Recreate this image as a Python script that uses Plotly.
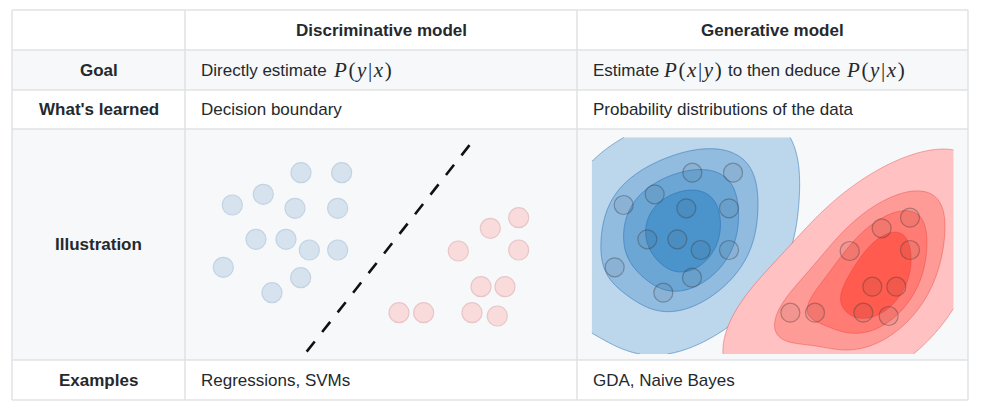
import numpy as np
import plotly.graph_objects as go

W, H = 984, 411

# ---------------- data ----------------
col_headers = ["Discriminative model", "Generative model"]
row_labels = ["Goal", "What's learned", "Illustration", "Examples"]
learned = ["Decision boundary", "Probability distributions of the data"]
examples = ["Regressions, SVMs", "GDA, Naive Bayes"]

# two classes of points (feature x1, x2)
blue_x1 = [3.63, 4.85, 2.50, 1.57, 3.45, 4.73, 2.28, 3.18, 3.88, 4.73, 1.30, 3.62, 2.76]
blue_x2 = [5.77, 5.77, 5.12, 4.80, 4.70, 4.70, 3.77, 3.77, 3.45, 3.45, 2.93, 2.62, 2.17]
red_x1 = [10.16, 9.31, 8.35, 10.16, 9.03, 9.75, 6.57, 7.31, 8.76, 9.52]
red_x2 = [4.42, 4.10, 3.42, 3.45, 2.35, 2.35, 1.57, 1.57, 1.57, 1.47]

# decision boundary end points
boundary_x1 = [3.80, 8.87]
boundary_x2 = [0.40, 6.83]

# density levels (iso-proportions of probability mass)
level_props = [0.035, 0.2875, 0.525, 0.7625]
bw_adjust = 1.35

# ---------------- styles ----------------
TXT = "#24292e"
BORDER = "#dfe2e5"
STRIPE = "#f6f8fa"
SANS = "Liberation Sans, Arial, sans-serif"
SERIF = "Liberation Serif, Times New Roman, serif"
FS = 17

blue_fills = ["#bcd6ec", "#91bbdf", "#6ca6d5", "#4b93cb"]
red_fills = ["#ffc1c1", "#ff9b96", "#ff7b73", "#ff5b4e"]

# table geometry in pixels
xs = [12, 185, 577, 968]
ys = [10, 50, 90, 129, 360, 400]


def px(x):
    return x / W


def py(y):
    return 1 - y / H


fig = go.Figure()

# ---------------- KDE (Gaussian, Scott bandwidth) ----------------
def kde(ptx, pty, gx, gy):
    pts = np.vstack([ptx, pty])
    n = pts.shape[1]
    factor = n ** (-1.0 / 6.0) * bw_adjust
    cov = np.cov(pts) * factor ** 2
    inv = np.linalg.inv(cov)
    X, Y = np.meshgrid(gx, gy)
    dx = X[..., None] - pts[0]
    dy = Y[..., None] - pts[1]
    q = inv[0, 0] * dx * dx + 2 * inv[0, 1] * dx * dy + inv[1, 1] * dy * dy
    return np.exp(-0.5 * q).sum(-1) / (n * 2 * np.pi * np.sqrt(np.linalg.det(cov)))


def iso_levels(ptx, pty, props):
    gx = np.linspace(min(ptx) - 7, max(ptx) + 7, 320)
    gy = np.linspace(min(pty) - 7, max(pty) + 7, 320)
    z = kde(ptx, pty, gx, gy)
    vals = np.sort(z.ravel())
    cum = np.cumsum(vals)
    cum /= cum[-1]
    return [vals[min(np.searchsorted(cum, p), len(vals) - 1)] for p in props]


kde_xlim = [0.61, 11.47]
kde_ylim = [0.33, 6.83]
gx = np.linspace(kde_xlim[0], kde_xlim[1], 260)
gy = np.linspace(kde_ylim[0], kde_ylim[1], 160)

for ptx, pty, fills, lc in [
    (blue_x1, blue_x2, blue_fills, "rgba(40,110,180,0.5)"),
    (red_x1, red_x2, red_fills, "rgba(230,60,60,0.4)"),
]:
    z = kde(ptx, pty, gx, gy)
    levels = iso_levels(ptx, pty, level_props)
    for lev, fc in zip(levels, fills):
        # constraint contours shade the *invalid* region -> '<' shades z >= lev
        fig.add_trace(go.Contour(
            x=gx, y=gy, z=z, xaxis="x2", yaxis="y2",
            contours=dict(type="constraint", operation="<", value=float(lev)),
            fillcolor=fc, line=dict(color=lc, width=1),
            showscale=False, hoverinfo="skip", showlegend=False,
        ))

# points on generative panel
for ptx, pty in [(blue_x1, blue_x2), (red_x1, red_x2)]:
    fig.add_trace(go.Scatter(
        x=ptx, y=pty, mode="markers", xaxis="x2", yaxis="y2",
        marker=dict(size=19, color="rgba(70,70,70,0.07)",
                    line=dict(color="rgba(60,60,60,0.38)", width=1.2)),
        hoverinfo="skip", showlegend=False,
    ))

# discriminative panel
fig.add_trace(go.Scatter(
    x=blue_x1, y=blue_x2, mode="markers", xaxis="x", yaxis="y",
    marker=dict(size=20, color="#d6e3ef", line=dict(color="#c4d3e2", width=1.2)),
    hoverinfo="skip", showlegend=False,
))
fig.add_trace(go.Scatter(
    x=red_x1, y=red_x2, mode="markers", xaxis="x", yaxis="y",
    marker=dict(size=20, color="#f9dbdc", line=dict(color="#e8c6c8", width=1.2)),
    hoverinfo="skip", showlegend=False,
))
fig.add_trace(go.Scatter(
    x=boundary_x1, y=boundary_x2, mode="lines", xaxis="x", yaxis="y",
    line=dict(color="#111111", width=2.6, dash="13px,12px"),
    hoverinfo="skip", showlegend=False,
))

# ---------------- table shapes ----------------
shapes = []
for (y0, y1), fill in zip(zip(ys[:-1], ys[1:]), ["white", STRIPE, "white", STRIPE, "white"]):
    shapes.append(dict(type="rect", xref="paper", yref="paper", layer="below",
                       x0=px(xs[0]), x1=px(xs[-1]), y0=py(y0), y1=py(y1),
                       fillcolor=fill, line=dict(width=0)))
for y in ys:
    shapes.append(dict(type="line", xref="paper", yref="paper", layer="below",
                       x0=px(xs[0]), x1=px(xs[-1]), y0=py(y), y1=py(y),
                       line=dict(color=BORDER, width=1.5)))
for x in xs:
    shapes.append(dict(type="line", xref="paper", yref="paper", layer="below",
                       x0=px(x), x1=px(x), y0=py(ys[0]), y1=py(ys[-1]),
                       line=dict(color=BORDER, width=1.5)))

# ---------------- text ----------------
ann = []


def text(x, y, s, bold=False, anchor="left", font=SANS, size=FS):
    ann.append(dict(xref="paper", yref="paper", x=px(x), y=py(y), text=s,
                    showarrow=False, xanchor=anchor, yanchor="middle",
                    borderpad=0, font=dict(family=font, size=size, color=TXT)))


rc = [(ys[i] + ys[i + 1]) / 2 for i in range(len(ys) - 1)]
col_c = [(xs[i] + xs[i + 1]) / 2 for i in range(len(xs) - 1)]

for i, h in enumerate(col_headers):
    text(col_c[i + 1], rc[0], "<b>%s</b>" % h, anchor="center")
for i, lab in enumerate(row_labels):
    text(col_c[0], rc[i + 1], "<b>%s</b>" % lab, anchor="center")

SP = '<span style="letter-spacing:1.6px">%s</span>'
PYX = SP % "<i>P</i>(<i>y</i>|<i>x</i>)"
PXY = SP % "<i>P</i>(<i>x</i>|<i>y</i>)"
MS = 21
text(200, rc[1], "Directly estimate")
text(332, rc[1], PYX, font=SERIF, size=MS)
text(592, rc[1], "Estimate")
text(661.5, rc[1], PXY, font=SERIF, size=MS)
text(726.5, rc[1], "to then deduce")
text(845, rc[1], PYX, font=SERIF, size=MS)

text(200, rc[2], learned[0])
text(592, rc[2], learned[1])
text(200, rc[4], examples[0])
text(592, rc[4], examples[1])

ax = dict(visible=False, showgrid=False, zeroline=False, fixedrange=True)
fig.update_layout(
    width=W, height=H,
    margin=dict(l=0, r=0, t=0, b=0),
    paper_bgcolor="white", plot_bgcolor="rgba(0,0,0,0)",
    xaxis=dict(ax, domain=[px(185), px(576)], range=[0.15, 11.88]),
    yaxis=dict(ax, domain=[py(360), py(129)], range=[0.15, 7.08]),
    xaxis2=dict(ax, domain=[px(577), px(968)], range=[0.17, 11.90]),
    yaxis2=dict(ax, domain=[py(360), py(129)], range=[0.15, 7.08]),
    shapes=shapes, annotations=ann, showlegend=False,
)

fig.write_html("out.html", post_script="document.body.style.margin='0';",
               config={"displayModeBar": False})
